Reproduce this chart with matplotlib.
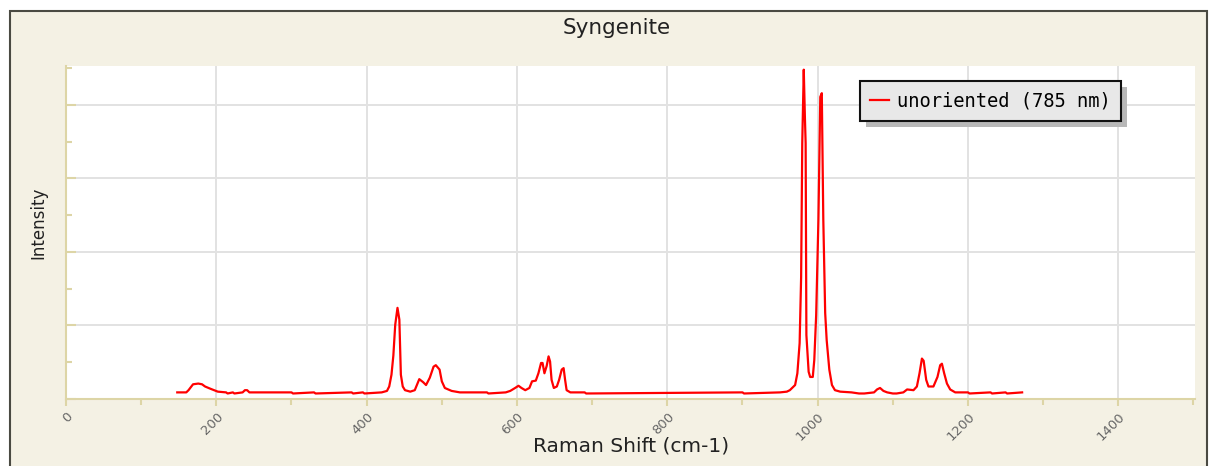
import matplotlib
matplotlib.use("Agg")
import matplotlib.pyplot as plt
from matplotlib.patches import Rectangle
from matplotlib.ticker import MultipleLocator
from matplotlib.transforms import IdentityTransform

# Raman spectrum of syngenite, 785 nm excitation (arbitrary intensity units)
shift = [148, 160, 163, 169, 176, 181, 185, 192, 202, 213, 215, 222, 224, 235, 238, 241,
         244, 300, 302, 330, 332, 380, 382, 395, 397, 420, 427, 430, 433, 435.5,
         438, 441, 443.5, 445.5, 448, 451, 458, 464, 470, 475, 479, 484, 489, 492,
         497, 500, 504, 513, 524, 560, 562, 585, 591, 597.5, 602, 606, 611, 616.5,
         620, 625, 628.5, 632, 634, 636.5, 639.5, 642, 644, 646, 649, 653, 656,
         659.5, 662, 664, 666, 671, 690, 692, 900, 902, 950, 959, 963, 970, 973,
         976, 978, 979.5, 981.5, 983, 984, 985, 988, 990, 993.5, 995.5, 998, 1001,
         1003.5, 1005.5, 1007.5, 1010, 1012, 1015.5, 1019, 1023, 1030, 1045, 1055,
         1062, 1075, 1079, 1083, 1087.5, 1092.5, 1100, 1105, 1114, 1119, 1127.5,
         1132, 1135.5, 1138.7, 1141, 1144.4, 1147.4, 1154, 1159.4, 1163, 1165.3,
         1168.3, 1172, 1176.3, 1183, 1200, 1202, 1230, 1232, 1250, 1252, 1272]
intensity = [0.09, 0.09, 0.12, 0.20, 0.21, 0.20, 0.17, 0.14, 0.10, 0.09, 0.075, 0.09, 0.075,
             0.09, 0.12, 0.12, 0.09, 0.09, 0.075, 0.09, 0.075, 0.09, 0.075, 0.09, 0.075,
             0.09, 0.11, 0.17, 0.33, 0.59, 1.01, 1.24, 1.08, 0.33, 0.17, 0.12, 0.10,
             0.12, 0.27, 0.23, 0.19, 0.29, 0.44, 0.46, 0.40, 0.24, 0.15, 0.11, 0.09,
             0.09, 0.075, 0.09, 0.11, 0.15, 0.18, 0.15, 0.12, 0.15, 0.24, 0.25, 0.35,
             0.49, 0.49, 0.35, 0.45, 0.58, 0.51, 0.26, 0.15, 0.17, 0.26, 0.40, 0.42,
             0.26, 0.12, 0.09, 0.09, 0.075, 0.09, 0.075, 0.09, 0.10, 0.12, 0.19, 0.35,
             0.76, 1.66, 3.48, 4.48, 3.84, 3.48, 0.87, 0.37, 0.30, 0.30, 0.53, 1.14,
             2.44, 4.11, 4.16, 2.44, 1.17, 0.80, 0.40, 0.19, 0.12, 0.10, 0.09, 0.075,
             0.075, 0.09, 0.13, 0.15, 0.11, 0.09, 0.075, 0.075, 0.09, 0.13, 0.12, 0.17,
             0.35, 0.55, 0.52, 0.26, 0.17, 0.17, 0.30, 0.46, 0.48, 0.35, 0.21, 0.13,
             0.09, 0.09, 0.075, 0.09, 0.075, 0.09, 0.075, 0.09]

x_ticks = [0, 200, 400, 600, 800, 1000, 1200, 1400]
series_label = "unoriented (785 nm)"

W, H = 1210, 466
fig = plt.figure(figsize=(W / 100, H / 100), dpi=100, facecolor="white")

# beige panel with a dark frame behind the plot
panel = Rectangle((10 / W, -0.05), 1197 / W, (H - 11) / H + 0.05,
                  transform=fig.transFigure, facecolor="#f4f1e4",
                  edgecolor="#4a4a42", linewidth=1.5, zorder=-1)
fig.patches.append(panel)

ax = fig.add_axes([66 / W, (H - 399) / H, (1195 - 66) / W, (399 - 66) / H])
ax.set_facecolor("white")

ax.plot(shift, intensity, color="#ff0000", linewidth=1.6, label=series_label, zorder=3)

ax.set_xlim(0, 1502)
ax.set_ylim(0, 4.53)

ax.xaxis.set_major_locator(MultipleLocator(200))
ax.xaxis.set_minor_locator(MultipleLocator(100))
ax.yaxis.set_major_locator(MultipleLocator(1))
ax.yaxis.set_minor_locator(MultipleLocator(0.5))
ax.set_xticks(x_ticks)
ax.set_xticklabels([str(t) for t in x_ticks], rotation=45, ha="right",
                   rotation_mode="anchor", fontsize=9.5, color="#666666")
ax.set_yticklabels([])

axis_col = "#ddd5a6"
ax.tick_params(axis="x", which="major", direction="out", length=5, width=1.5,
               color=axis_col, pad=3)
ax.tick_params(axis="x", which="minor", direction="out", length=4.5, width=1.5,
               color=axis_col)
ax.tick_params(axis="y", which="major", direction="in", length=7, width=1.5,
               color=axis_col, left=True)
ax.tick_params(axis="y", which="minor", direction="in", length=4.5, width=1.5,
               color=axis_col)

for side in ("top", "right"):
    ax.spines[side].set_visible(False)
for side in ("left", "bottom"):
    ax.spines[side].set_color(axis_col)
    ax.spines[side].set_linewidth(1.5)

ax.grid(True, which="major", color="#e2e2e2", linewidth=1.4, zorder=0)
ax.set_axisbelow(True)

ax.set_xlabel("Raman Shift (cm-1)", fontsize=14.5, color="#222222")
ax.xaxis.set_label_coords((631 - 66) / 1129, -(446 - 399) / 333)
ax.set_ylabel("Intensity", fontsize=12, color="#222222")
ax.yaxis.set_label_coords(-(66 - 38) / 1129, (399 - 223) / 333)
ax.xaxis.label.set_va("center")
ax.yaxis.label.set_va("center")
fig.text(617 / W, 1 - 28 / H, "Syngenite", ha="center", va="center",
         fontsize=15.5, color="#222222")

leg = ax.legend(loc="upper left", bbox_to_anchor=(860 / W, 1 - 81 / H),
                bbox_transform=fig.transFigure, borderaxespad=0,
                prop={"family": "DejaVu Sans Mono", "size": 13.5},
                fancybox=False, framealpha=1, facecolor="#e8e8e8",
                edgecolor="#111111", handlelength=1.0, handletextpad=0.4,
                borderpad=0.55)
leg.get_frame().set_linewidth(1.5)
leg.set_zorder(6)

# drop shadow under the legend box
fig.canvas.draw()
bb = leg.get_frame().get_window_extent()
shadow = Rectangle((bb.x0 + 6, bb.y0 - 6), bb.width, bb.height,
                   transform=IdentityTransform(), facecolor="#b8b8b8",
                   edgecolor="none", clip_on=False, zorder=5.5)
ax.add_patch(shadow)

fig.savefig("out.png", dpi=100, facecolor=fig.get_facecolor())
